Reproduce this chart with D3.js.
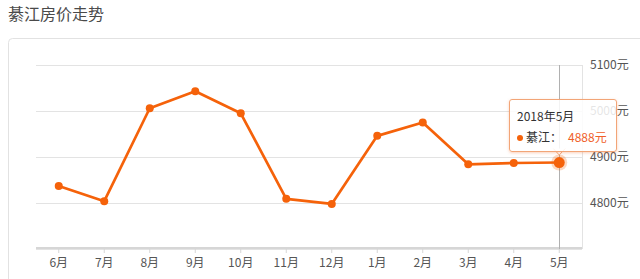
<!DOCTYPE html>
<html lang="zh">
<head>
<meta charset="UTF-8">
<title>綦江房价走势</title>
<style>
    body {
        margin: 0;
        background: #fff;
        font-family: "Noto Sans CJK SC", "Noto Sans", sans-serif;
        overflow: hidden;
    }
    .grid line { stroke: #e3e3e3; }
    .tip {
        position: absolute;
        background: rgba(255, 255, 255, 0.85);
        border: 1px solid #f2a577;
        border-radius: 3px;
        box-shadow: 0 1px 3px rgba(240, 120, 60, 0.35);
        font-size: 12px;
        color: #333;
        padding: 5px 9px 4px 7px;
        line-height: 21px;
        white-space: nowrap;
    }
</style>
<script src="https://d3js.org/d3.v7.min.js"></script>
</head>
<body>
<div id="chart"></div>
<script>
    // data
    var months = ["6月", "7月", "8月", "9月", "10月", "11月", "12月", "1月", "2月", "3月", "4月", "5月"];
    var prices = [4837, 4804, 5006, 5043, 4995, 4809, 4798, 4946, 4975, 4884, 4887, 4888];
    var yTicks = [4800, 4900, 5000, 5100];
    var tipTitle = "2018年5月";
    var cityName = "綦江";

    var width = 640, height = 279;
    var orange = "#f5620a";

    var svg = d3.select("#chart").append("svg")
        .attr("width", width)
        .attr("height", height)
        .style("position", "absolute")
        .style("left", 0)
        .style("top", 0);

    // title
    svg.append("text")
        .attr("x", 8)
        .attr("y", 20)
        .attr("font-size", 16)
        .attr("fill", "#4a4a4a")
        .text("綦江房价走势");

    // card border
    svg.append("rect")
        .attr("x", 8.5)
        .attr("y", 38.5)
        .attr("width", 700)
        .attr("height", 300)
        .attr("rx", 4)
        .attr("fill", "none")
        .attr("stroke", "#e2e2e2");

    var x = d3.scaleBand().domain(months).range([36, 582]);
    var y = d3.scaleLinear().domain([4700, 5100]).range([249, 65]);

    // horizontal grid
    svg.append("g").attr("class", "grid")
        .selectAll("line")
        .data([4700].concat(yTicks))
        .enter().append("line")
        .attr("x1", 36)
        .attr("x2", 582)
        .attr("y1", function(d) { return Math.round(y(d)) + 0.5; })
        .attr("y2", function(d) { return Math.round(y(d)) + 0.5; });

    // right border of plot
    svg.append("line")
        .attr("x1", 582.5).attr("x2", 582.5)
        .attr("y1", y(5100)).attr("y2", y(4700))
        .attr("stroke", "#e3e3e3");

    // y labels on the right
    svg.append("g")
        .selectAll("text")
        .data(yTicks)
        .enter().append("text")
        .attr("x", 590)
        .attr("y", function(d) { return y(d) + 4; })
        .attr("font-size", 12)
        .attr("fill", "#555")
        .text(function(d) { return d + "元"; });

    // x axis
    var xAxis = d3.axisBottom(x).tickSize(5).tickPadding(5);
    var gx = svg.append("g")
        .attr("transform", "translate(0," + 248 + ")")
        .call(xAxis);
    gx.select(".domain").attr("stroke", "#d6d6d6").attr("stroke-width", 2)
        .attr("d", "M36,0H582");
    gx.selectAll(".tick line").attr("stroke", "#d6d6d6");
    gx.selectAll(".tick text")
        .attr("font-size", 12)
        .attr("fill", "#555")
        .attr("font-family", "'Noto Sans CJK SC', sans-serif");

    function px(d, i) { return x(months[i]) + x.bandwidth() / 2; }

    // crosshair on the last month
    var last = months.length - 1;
    svg.append("line")
        .attr("x1", Math.round(px(null, last)) + 0.5)
        .attr("x2", Math.round(px(null, last)) + 0.5)
        .attr("y1", y(5100))
        .attr("y2", y(4700))
        .attr("stroke", "#b0b0b0");

    // price line
    var line = d3.line()
        .x(function(d, i) { return px(d, i); })
        .y(function(d) { return y(d); });

    svg.append("path")
        .datum(prices)
        .attr("d", line)
        .attr("fill", "none")
        .attr("stroke", orange)
        .attr("stroke-width", 2.7)
        .attr("stroke-linejoin", "round");

    svg.selectAll("circle.pt")
        .data(prices)
        .enter().append("circle")
        .attr("class", "pt")
        .attr("cx", function(d, i) { return px(d, i); })
        .attr("cy", function(d) { return y(d); })
        .attr("r", 4)
        .attr("fill", orange);

    // highlighted last point
    svg.append("circle")
        .attr("cx", px(null, last))
        .attr("cy", y(prices[last]))
        .attr("r", 8)
        .attr("fill", orange)
        .attr("opacity", 0.25);
    svg.append("circle")
        .attr("cx", px(null, last))
        .attr("cy", y(prices[last]))
        .attr("r", 5.5)
        .attr("fill", orange);

    // tooltip
    var tip = d3.select("body").append("div")
        .attr("class", "tip")
        .style("left", "509px")
        .style("top", "99px");
    tip.append("div").text(tipTitle);
    var row = tip.append("div");
    row.append("span")
        .style("display", "inline-block")
        .style("width", "6px").style("height", "6px")
        .style("border-radius", "3px")
        .style("background", orange)
        .style("margin", "0 3px 1px 0")
        .style("vertical-align", "middle");
    row.append("span").text(cityName + "：");
    row.append("span")
        .style("color", "#f0602a")
        .style("margin-left", "6px")
        .text(prices[last] + "元");

    // tooltip arrow
    var ax = px(null, last);
    svg.append("path")
        .attr("d", "M" + (ax - 6) + ",148.5L" + ax + ",155L" + (ax + 6) + ",148.5")
        .attr("fill", "#fff")
        .attr("stroke", "#f2a577");
</script>
</body>
</html>
